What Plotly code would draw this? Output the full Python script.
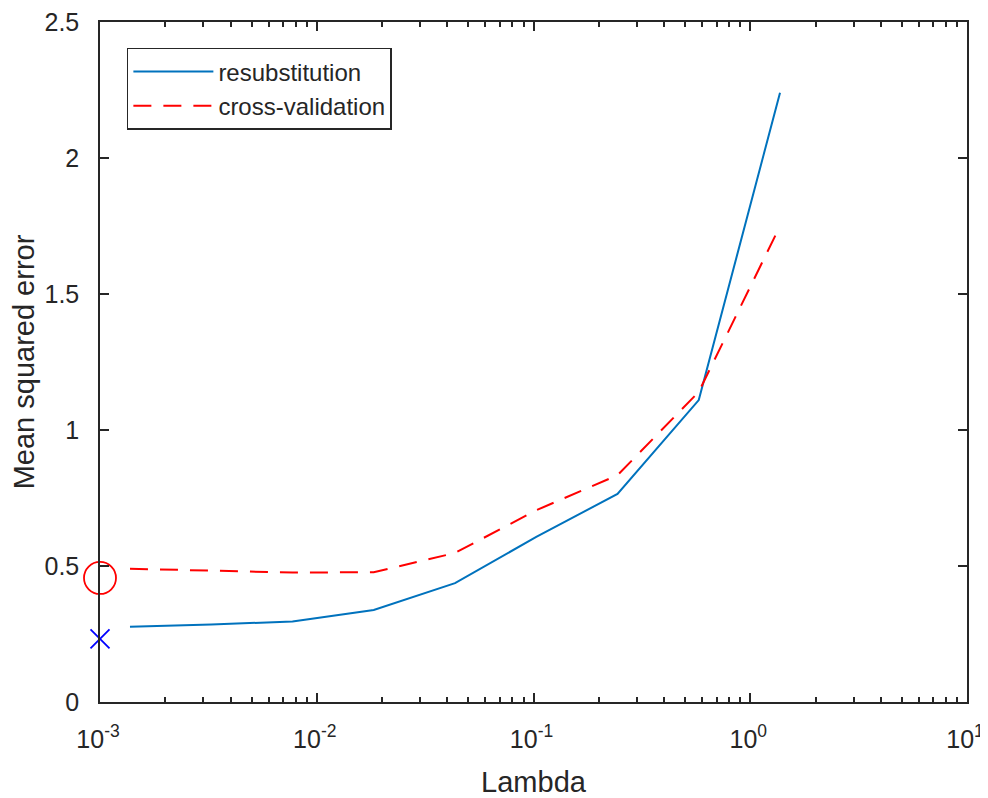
import plotly.graph_objects as go

lambda_vals = [1.375e-3, 3.26e-3, 7.73e-3, 1.832e-2, 4.345e-2, 0.1030, 0.2441, 0.5786, 1.372]
mse_resub = [0.277, 0.285, 0.296, 0.338, 0.437, 0.607, 0.765, 1.11, 2.24]
mse_cv = [0.490, 0.482, 0.476, 0.477, 0.548, 0.705, 0.834, 1.14, 1.75]

min_lambda = [1e-3]
min_cv = [0.456]
min_resub = [0.232]

x_tickvals = [1e-3, 1e-2, 1e-1, 1e0, 1e1]
x_ticktext = ["10<sup>-3</sup>", "10<sup>-2</sup>", "10<sup>-1</sup>", "10<sup>0</sup>", "10<sup>1</sup>"]
y_tickvals = [0, 0.5, 1, 1.5, 2, 2.5]
y_ticktext = ["0", "0.5", "1", "1.5", "2", "2.5"]

minor_vals = [m * 10 ** e for e in range(-3, 1) for m in range(2, 10)]

axis_color = "#262626"
font_family = "Liberation Sans, Arial, sans-serif"

fig = go.Figure()
fig.add_trace(go.Scatter(x=lambda_vals, y=mse_resub, mode="lines", name="resubstitution",
                         line=dict(color="#0072BD", width=2)))
fig.add_trace(go.Scatter(x=lambda_vals, y=mse_cv, mode="lines", name="cross-validation",
                         line=dict(color="#FF0000", width=2, dash="18px,12px")))
fig.add_trace(go.Scatter(x=min_lambda, y=min_cv, mode="markers", showlegend=False, cliponaxis=False,
                         marker=dict(symbol="circle-open", size=32, color="#FF0000",
                                     line=dict(width=1.8, color="#FF0000"))))
fig.add_trace(go.Scatter(x=min_lambda, y=min_resub, mode="markers", showlegend=False, cliponaxis=False,
                         marker=dict(symbol="x-thin", size=19, color="#0000FF",
                                     line=dict(width=1.8, color="#0000FF"))))

# page body has an 8px margin, so the figure is offset by (8, 8) on screen
fig.update_layout(
    width=980, height=790,
    margin=dict(l=92, r=21, t=14, b=96, autoexpand=False),
    paper_bgcolor="white", plot_bgcolor="white",
    font=dict(family=font_family, color=axis_color),
    legend=dict(x=0.031, y=0.962, xanchor="left", yanchor="top",
                bgcolor="white", bordercolor=axis_color, borderwidth=1.5,
                font=dict(size=24, color=axis_color), itemwidth=80,
                tracegroupgap=0),
    showlegend=True,
)
fig.update_xaxes(
    type="log", range=[-3, 1], automargin=False, ticklabeloverflow="allow",
    tickmode="array", tickvals=x_tickvals, ticktext=x_ticktext,
    ticks="inside", ticklen=9, tickwidth=1.5, tickcolor=axis_color,
    showline=True, linecolor=axis_color, linewidth=1.5, mirror="ticks",
    showgrid=False, zeroline=False, ticklabelstandoff=14, ticklabelshift=-2,
    tickfont=dict(size=25, color=axis_color),
    title=dict(text="Lambda", font=dict(size=29, color=axis_color), standoff=21),
    minor=dict(tickmode="array", tickvals=minor_vals, ticks="inside", ticklen=5,
               tickwidth=1.5, tickcolor=axis_color, showgrid=False),
)
fig.update_yaxes(
    range=[0, 2.5], automargin=False, ticklabeloverflow="allow",
    tickmode="array", tickvals=y_tickvals, ticktext=y_ticktext,
    ticks="inside", ticklen=9, tickwidth=1.5, tickcolor=axis_color,
    showline=True, linecolor=axis_color, linewidth=1.5, mirror="ticks",
    showgrid=False, zeroline=False, ticklabelstandoff=14,
    tickfont=dict(size=25, color=axis_color),
    title=dict(text="Mean squared error", font=dict(size=29, color=axis_color), standoff=4),
)

fig.write_html("out.html")
